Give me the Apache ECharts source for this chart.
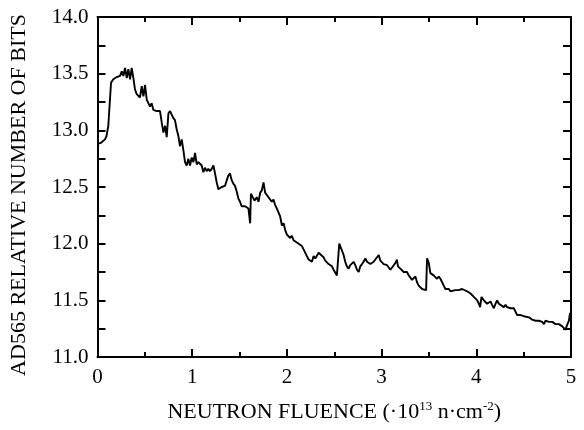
<!DOCTYPE html>
<html>
<head>
<meta charset="utf-8">
<script src="https://cdn.jsdelivr.net/npm/echarts@6/dist/echarts.min.js"></script>
<style>html,body{margin:0;padding:0;background:#fff;}#c{width:584px;height:430px;}</style>
</head>
<body>
<div id="c"></div>
<script>
var fluence = [0.000,0.037,0.079,0.095,0.114,0.130,0.143,0.167,0.203,0.238,0.256,0.273,0.291,0.309,0.326,0.344,0.361,0.379,0.396,0.414,0.449,0.467,0.485,0.502,0.520,0.537,0.555,0.572,0.590,0.625,0.660,0.678,0.696,0.714,0.731,0.749,0.766,0.800,0.818,0.836,0.854,0.871,0.889,0.906,0.924,0.942,0.959,0.977,0.995,1.013,1.030,1.048,1.065,1.100,1.118,1.135,1.153,1.170,1.188,1.206,1.224,1.241,1.259,1.276,1.311,1.346,1.381,1.399,1.417,1.434,1.452,1.470,1.487,1.505,1.522,1.559,1.594,1.612,1.620,1.636,1.658,1.682,1.700,1.718,1.735,1.753,1.770,1.806,1.840,1.858,1.876,1.894,1.911,1.929,1.947,1.965,1.982,2.000,2.018,2.035,2.053,2.070,2.088,2.105,2.123,2.158,2.176,2.194,2.211,2.229,2.247,2.264,2.282,2.300,2.317,2.335,2.352,2.387,2.405,2.423,2.440,2.458,2.476,2.493,2.511,2.528,2.546,2.553,2.563,2.581,2.599,2.616,2.634,2.652,2.669,2.687,2.705,2.722,2.740,2.758,2.775,2.793,2.810,2.828,2.846,2.863,2.881,2.899,2.916,2.952,2.970,2.987,3.005,3.022,3.058,3.075,3.093,3.111,3.128,3.146,3.162,3.173,3.198,3.215,3.233,3.250,3.268,3.286,3.303,3.321,3.339,3.357,3.374,3.392,3.410,3.427,3.445,3.470,3.480,3.498,3.515,3.533,3.550,3.568,3.586,3.603,3.621,3.639,3.656,3.674,3.692,3.710,3.727,3.745,3.780,3.815,3.850,3.868,3.903,3.939,3.974,4.010,4.027,4.040,4.055,4.080,4.096,4.114,4.150,4.167,4.185,4.203,4.220,4.238,4.255,4.290,4.308,4.326,4.361,4.378,4.396,4.414,4.431,4.467,4.502,4.520,4.555,4.590,4.626,4.661,4.696,4.714,4.731,4.767,4.802,4.837,4.872,4.908,4.925,4.943,4.953,4.967,4.978,4.990];
var bits = [12.88,12.89,12.92,12.95,13.04,13.25,13.42,13.45,13.47,13.48,13.52,13.48,13.55,13.46,13.54,13.45,13.55,13.46,13.36,13.32,13.29,13.39,13.30,13.40,13.27,13.24,13.21,13.24,13.18,13.17,13.17,13.07,12.98,13.04,12.94,13.15,13.17,13.11,13.09,13.01,12.95,12.86,12.92,12.83,12.72,12.69,12.75,12.69,12.76,12.72,12.80,12.70,12.72,12.69,12.63,12.67,12.64,12.66,12.64,12.66,12.69,12.62,12.54,12.48,12.50,12.51,12.60,12.62,12.56,12.53,12.51,12.46,12.40,12.37,12.33,12.33,12.31,12.18,12.44,12.45,12.38,12.41,12.37,12.45,12.47,12.54,12.45,12.41,12.37,12.39,12.34,12.31,12.30,12.24,12.16,12.18,12.12,12.08,12.07,12.05,12.07,12.03,12.04,12.01,12.00,11.98,11.95,11.95,11.89,11.86,11.87,11.84,11.89,11.87,11.86,11.92,11.91,11.88,11.85,11.84,11.82,11.81,11.80,11.77,11.78,11.72,11.71,12.00,11.99,11.94,11.90,11.84,11.80,11.78,11.81,11.82,11.84,11.81,11.77,11.75,11.80,11.82,11.84,11.87,11.84,11.85,11.82,11.81,11.84,11.88,11.90,11.85,11.84,11.82,11.81,11.80,11.77,11.78,11.81,11.83,11.86,11.80,11.78,11.77,11.75,11.74,11.75,11.72,11.71,11.68,11.69,11.71,11.66,11.63,11.62,11.60,11.59,11.59,11.87,11.83,11.74,11.75,11.72,11.71,11.69,11.71,11.69,11.66,11.63,11.60,11.59,11.60,11.58,11.59,11.59,11.59,11.60,11.59,11.58,11.56,11.53,11.50,11.47,11.44,11.53,11.50,11.49,11.47,11.49,11.46,11.43,11.47,11.50,11.47,11.46,11.44,11.46,11.44,11.43,11.42,11.43,11.40,11.37,11.37,11.36,11.35,11.35,11.33,11.32,11.32,11.31,11.29,11.32,11.31,11.31,11.29,11.29,11.27,11.26,11.24,11.27,11.26,11.32,11.39];
var xTicks = [0, 5, 1];
var yTicks = [11, 14, 0.25];
var xTitle = 'NEUTRON FLUENCE (·10{sup|13} n·cm{sup|-2})';
var yTitle = 'AD565 RELATIVE NUMBER OF BITS';

var FONT = 'Liberation Serif';
var data = fluence.map(function (x, i) { return [x, bits[i]]; });

function xAx(pos, showLabel) {
  return {
    type: 'value', position: pos, min: xTicks[0], max: xTicks[1], interval: xTicks[2],
    axisLine: { show: true, onZero: false, lineStyle: { color: '#000', width: 2 } },
    axisTick: { show: true, inside: true, length: 8, lineStyle: { color: '#000', width: 2 } },
    minorTick: { show: true, splitNumber: 2, length: 5, lineStyle: { color: '#000', width: 2 } },
    splitLine: { show: false },
    axisLabel: { show: showLabel, color: '#000', fontFamily: FONT, fontSize: 21, margin: 10 },
    name: showLabel ? xTitle : '', nameLocation: 'middle', nameGap: 43,
    nameTextStyle: { color: '#000', fontFamily: FONT, fontSize: 22, lineHeight: 25,
      rich: { sup: { fontFamily: FONT, fontSize: 13, color: '#000', verticalAlign: 'top', lineHeight: 25 } } }
  };
}
function yAx(pos, showLabel) {
  return {
    type: 'value', position: pos, min: yTicks[0], max: yTicks[1], interval: yTicks[2],
    axisLine: { show: true, onZero: false, lineStyle: { color: '#000', width: 2 } },
    axisTick: { show: true, inside: true, length: 8, lineStyle: { color: '#000', width: 2 } },
    splitLine: { show: false },
    axisLabel: { show: showLabel, color: '#000', fontFamily: FONT, fontSize: 21, margin: 9,
      formatter: function (v) { return Math.abs(v * 2 - Math.round(v * 2)) < 1e-6 ? v.toFixed(1) : ''; } },
    name: showLabel ? yTitle : '', nameLocation: 'middle', nameGap: 67,
    nameTextStyle: { color: '#000', fontFamily: FONT, fontSize: 22, padding: [0, 16, 0, 0] }
  };
}

var chart = echarts.init(document.getElementById('c'), null, { renderer: 'canvas' });
chart.setOption({
  animation: false,
  backgroundColor: '#fff',
  grid: { left: 97.5, right: 13, top: 17, bottom: 69 },
  xAxis: [xAx('bottom', true), xAx('top', false)],
  yAxis: [yAx('left', true), yAx('right', false)],
  series: [{
    type: 'line', xAxisIndex: 0, yAxisIndex: 0, data: data,
    showSymbol: false, symbol: 'none',
    lineStyle: { color: '#000', width: 1.9 }
  }]
});
</script>
</body>
</html>
